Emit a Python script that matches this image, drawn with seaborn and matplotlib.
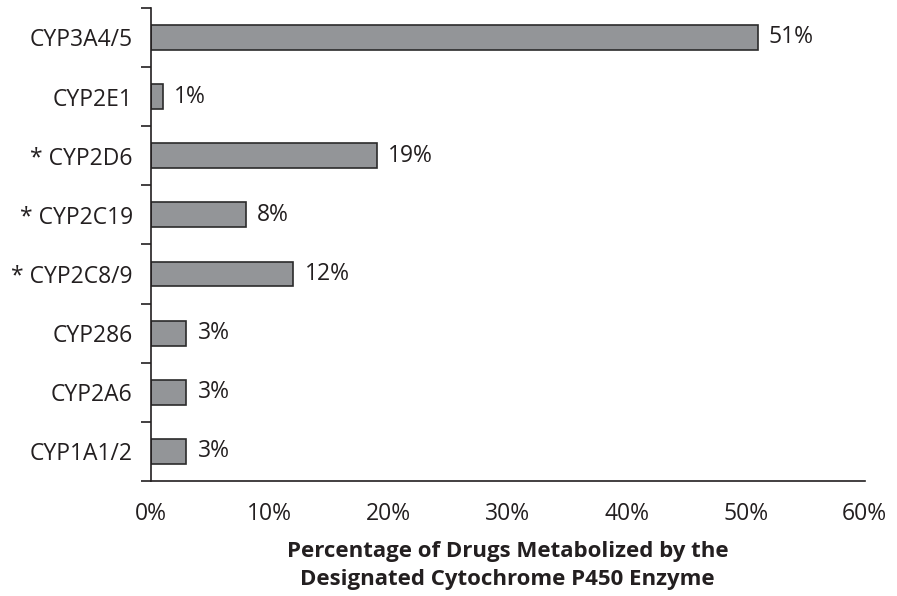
import matplotlib
matplotlib.use("Agg")
import matplotlib.pyplot as plt
import seaborn as sns
import pandas as pd
from matplotlib.ticker import FixedLocator, PercentFormatter

enzymes = ["CYP3A4/5", "CYP2E1", "* CYP2D6", "* CYP2C19", "* CYP2C8/9",
           "CYP286", "CYP2A6", "CYP1A1/2"]
percent = [51, 1, 19, 8, 12, 3, 3, 3]
x_ticks = [0, 10, 20, 30, 40, 50, 60]

df = pd.DataFrame({"enzyme": enzymes, "percent": percent})

sns.set_style("white")
plt.rcParams["font.family"] = ["Open Sans", "DejaVu Sans"]

fig = plt.figure(figsize=(8.97, 5.96), dpi=100)
ax = fig.add_axes([0.168, 0.193, 0.796, 0.7937])

sns.barplot(data=df, x="percent", y="enzyme", orient="h", order=enzymes,
            color="#939598", saturation=1, width=0.42,
            edgecolor="#2b2b2b", linewidth=1.2, ax=ax)

for cont in ax.containers:
    ax.bar_label(cont, labels=[f"{v}%" for v in percent], padding=8,
                 fontsize=16.5, color="#231f20")

ax.set_xlim(0, 60)
ax.set_ylim(len(enzymes) - 0.5, -0.5)
ax.xaxis.set_major_locator(FixedLocator(x_ticks))
ax.xaxis.set_major_formatter(PercentFormatter(decimals=0))
ax.yaxis.set_minor_locator(FixedLocator([i - 0.5 for i in range(len(enzymes) + 1)]))

for side in ["top", "right"]:
    ax.spines[side].set_visible(False)
for side in ["left", "bottom"]:
    ax.spines[side].set_color("#231f20")
    ax.spines[side].set_linewidth(1.2)

ax.tick_params(axis="x", which="major", direction="out", length=8, width=1.2,
               color="#231f20", labelsize=16.5, labelcolor="#231f20", pad=7)
ax.tick_params(axis="y", which="major", length=0, labelsize=16.5,
               labelcolor="#231f20", pad=13)
ax.tick_params(axis="y", which="minor", direction="out", length=7, width=1.2,
               color="#231f20", left=True)

ax.set_ylabel("")
ax.set_xlabel("Percentage of Drugs Metabolized by the\nDesignated Cytochrome P450 Enzyme",
              fontsize=16, fontweight="bold", color="#231f20", labelpad=11,
              linespacing=1.45)

fig.savefig("out.png", dpi=100)
